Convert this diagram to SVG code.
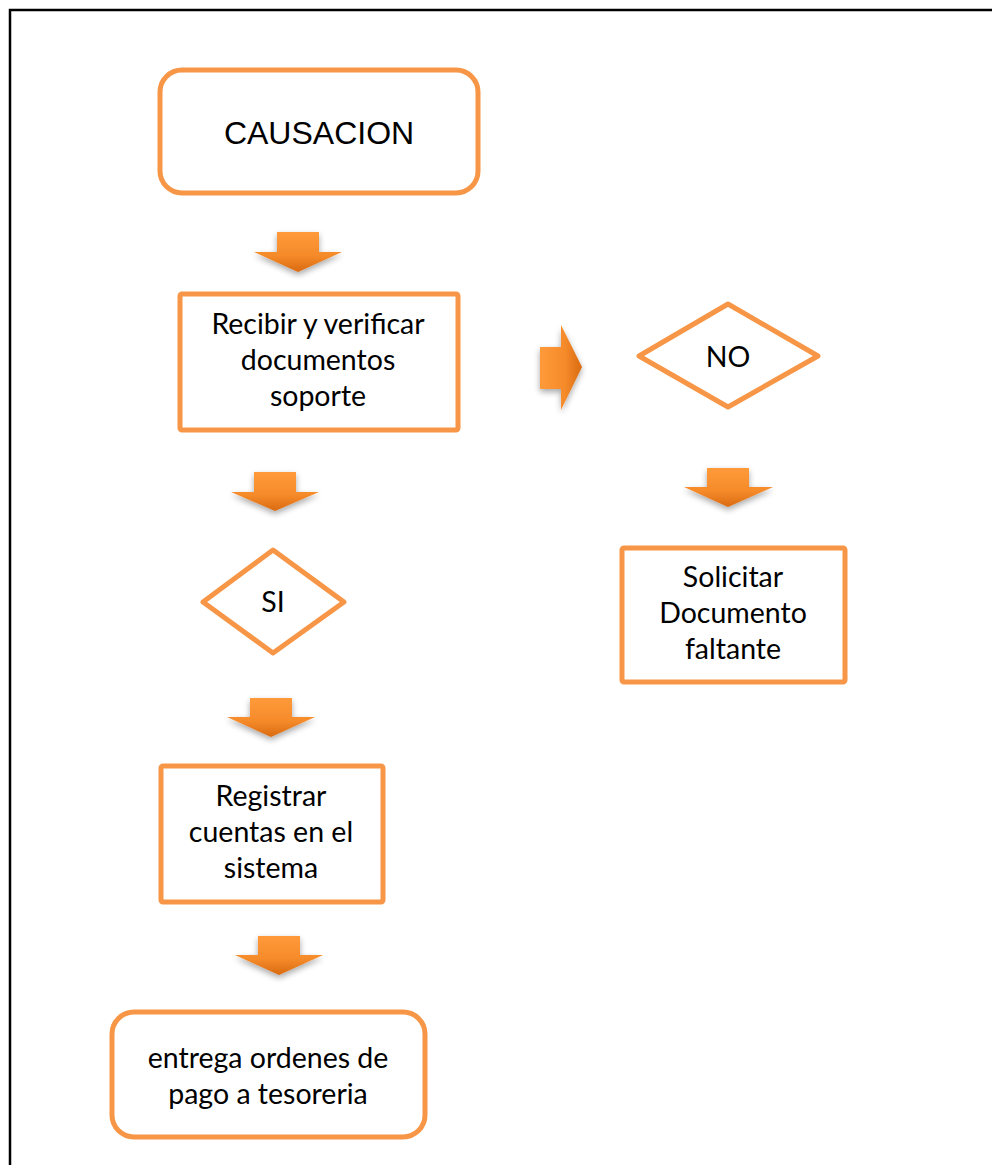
<svg xmlns="http://www.w3.org/2000/svg" width="992" height="1165" viewBox="0 0 992 1165">
  <defs>
    <linearGradient id="arrowDown" x1="0" y1="0" x2="0" y2="1">
      <stop offset="0" stop-color="#FF9A3A"/>
      <stop offset="0.6" stop-color="#F58A2A"/>
      <stop offset="1" stop-color="#D96A10"/>
    </linearGradient>
    <linearGradient id="arrowRight" x1="0" y1="0" x2="1" y2="0">
      <stop offset="0" stop-color="#FF9A3A"/>
      <stop offset="0.6" stop-color="#F58A2A"/>
      <stop offset="1" stop-color="#D96A10"/>
    </linearGradient>
    <filter id="soft" x="-30%" y="-30%" width="160%" height="170%">
      <feGaussianBlur in="SourceAlpha" stdDeviation="3"/>
      <feOffset dx="0" dy="3" result="b"/>
      <feComponentTransfer><feFuncA type="linear" slope="0.35"/></feComponentTransfer>
      <feMerge><feMergeNode/><feMergeNode in="SourceGraphic"/></feMerge>
    </filter>
  </defs>
  <style>
    .box { fill: #FFFFFF; stroke: #F79646; stroke-width: 5; stroke-linejoin: round; }
    .lbl { font-family: Lato, "Open Sans", sans-serif; font-size: 28.5px; fill: #000000; text-anchor: middle; }
    .title { font-family: "Liberation Sans", Arial, sans-serif; font-size: 32px; fill: #000000; text-anchor: middle; }
    .down { fill: url(#arrowDown); filter: url(#soft); }
    .right { fill: url(#arrowRight); filter: url(#soft); }
  </style>

  <!-- page frame -->
  <path d="M10 1165 V10 H992" fill="none" stroke="#000000" stroke-width="2.5"/>

  <g id="causacion">
    <rect class="box" x="160" y="70" width="318" height="123" rx="22"/>
    <text class="title" x="319" y="144">CAUSACION</text>
  </g>

  <g id="recibir">
    <rect class="box" x="180" y="294" width="278" height="136" rx="2"/>
    <text class="lbl" x="318" y="334">Recibir y verificar</text>
    <text class="lbl" x="318" y="370">documentos</text>
    <text class="lbl" x="318" y="406">soporte</text>
  </g>

  <g id="decision-no">
    <polygon class="box" points="639,356 728,304 818,356 728,407"/>
    <text class="lbl" x="728" y="367">NO</text>
  </g>

  <g id="decision-si">
    <polygon class="box" points="203,602 273,550 344,602 273,653"/>
    <text class="lbl" x="273" y="612">SI</text>
  </g>

  <g id="solicitar">
    <rect class="box" x="622" y="548" width="223" height="134" rx="2"/>
    <text class="lbl" x="733" y="587">Solicitar</text>
    <text class="lbl" x="733" y="623">Documento</text>
    <text class="lbl" x="733" y="659">faltante</text>
  </g>

  <g id="registrar">
    <rect class="box" x="161" y="766" width="222" height="136" rx="2"/>
    <text class="lbl" x="271" y="806">Registrar</text>
    <text class="lbl" x="271" y="842">cuentas en el</text>
    <text class="lbl" x="271" y="878">sistema</text>
  </g>

  <g id="entrega">
    <rect class="box" x="112" y="1012" width="313" height="125" rx="22"/>
    <text class="lbl" x="268" y="1068">entrega ordenes de</text>
    <text class="lbl" x="268" y="1104">pago a tesoreria</text>
  </g>

  <g id="connectors">
    <polygon class="down" points="277,232 319,232 319,252 342,252 298,272 254,252 277,252"/>
    <polygon class="down" points="254,472 296,472 296,492 319,492 275,511 231,492 254,492"/>
    <polygon class="down" points="250,698 292,698 292,717 315,717 271,737 227,717 250,717"/>
    <polygon class="down" points="258,936 300,936 300,955 323,955 279,975 235,955 258,955"/>
    <polygon class="down" points="707,468 749,468 749,487 773,487 728,507 684,487 707,487"/>
    <polygon class="right" points="540,347 561,347 561,325 582,367 561,410 561,389 540,389"/>
  </g>
</svg>
